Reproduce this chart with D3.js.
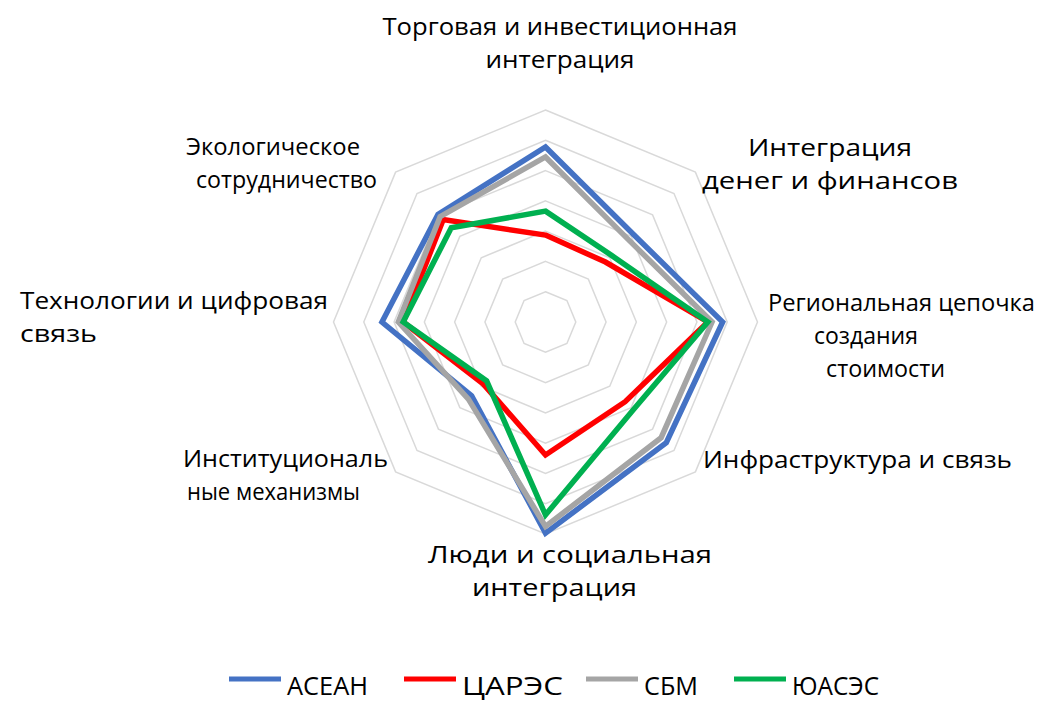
<!DOCTYPE html>
<html>
<head>
<meta charset="utf-8">
<script src="https://cdn.jsdelivr.net/npm/d3@7"></script>
<style>
  html, body { margin: 0; padding: 0; background: #fff; }
  svg { display: block; }
  text { font-family: "Open Sans", "Noto Sans", sans-serif; fill: #000; }
</style>
</head>
<body>
<div id="app"></div>
<script>
// axes, clockwise from the top
var axes = [
    'Торговая и инвестиционная интеграция',
    'Интеграция денег и финансов',
    'Региональная цепочка создания стоимости',
    'Инфраструктура и связь',
    'Люди и социальная интеграция',
    'Институциональные механизмы',
    'Технологии и цифровая связь',
    'Экологическое сотрудничество'
];

var seriesNames = ['АСЕАН', 'ЦАРЭС', 'СБМ', 'ЮАСЭС'];

var asean  = [5.78, 4.10, 5.85, 5.64, 6.97, 3.45, 5.40, 5.02];
var carec  = [2.87, 2.80, 5.36, 3.72, 4.39, 2.90, 4.70, 4.78];
var sbm    = [5.45, 3.86, 5.50, 5.40, 6.75, 3.60, 4.86, 4.92];
var sasec  = [3.66, 3.10, 5.36, 4.10, 6.37, 2.75, 4.70, 4.40];

var gridLevels = [1, 2, 3, 4, 5, 6, 7];

// label layout: wrapped lines, x, first baseline, widths (null = natural)
var labelLayout = [
    {lines: ['Торговая и инвестиционная', 'интеграция'], x: 560, y: 35, w: [355, 149], anchor: 'middle'},
    {lines: ['Интеграция', 'денег и финансов'], x: 830, y: 156, w: [164, 256], anchor: 'middle'},
    {lines: ['Региональная цепочка', 'создания', 'стоимости'], x: 0, y: 311, w: [267, null, 119], xs: [768, 814, 826], anchor: 'start'},
    {lines: ['Инфраструктура и связь'], x: 703, y: 468, w: [309], anchor: 'start'},
    {lines: ['Люди и социальная', 'интеграция'], x: 0, y: 563, w: [284, 165], xs: [428, 472], anchor: 'start'},
    {lines: ['Институциональ', 'ные механизмы'], x: 0, y: 467, w: [205, 173], xs: [183, 187], anchor: 'start'},
    {lines: ['Технологии и цифровая', 'связь'], x: 20, y: 309, w: [308, 77], anchor: 'start'},
    {lines: ['Экологическое', 'сотрудничество'], x: 0, y: 155, w: [174, 181], xs: [186, 196], anchor: 'start'}
];

var width = 1038,
    height = 702,
    cx = 545.5,
    cy = 322,
    R = 212;

var colors = d3.scaleOrdinal()
    .domain(seriesNames)
    .range(['#4472c4', '#ff0000', '#a5a5a5', '#00b050']);

var r = d3.scaleLinear().domain([0, 7]).range([0, R]);
var angle = d3.scaleLinear().domain([0, axes.length]).range([0, 2 * Math.PI]);

var svg = d3.select('#app').append('svg')
    .attr('width', width)
    .attr('height', height);

var g = svg.append('g').attr('transform', 'translate(' + [cx, cy] + ')');

// grid octagons
var ring = d3.lineRadial()
    .angle(function (d, i) { return angle(i); })
    .radius(function (d) { return r(d); })
    .curve(d3.curveLinearClosed);

g.append('g').selectAll('path')
    .data(gridLevels)
    .enter().append('path')
    .attr('d', function (lv) { return ring(axes.map(function () { return lv; })); })
    .attr('fill', 'none')
    .attr('stroke', '#d9d9d9')
    .attr('stroke-width', 1.5);

// series
var data = [asean, carec, sbm, sasec];
g.append('g').selectAll('path')
    .data(data)
    .enter().append('path')
    .attr('d', function (d) { return ring(d); })
    .attr('fill', 'none')
    .attr('stroke', function (d, i) { return colors(seriesNames[i]); })
    .attr('stroke-width', 5.5)
    .attr('stroke-linejoin', 'miter');

// axis labels
var lineH = 33;
var labels = svg.append('g').selectAll('text')
    .data(labelLayout)
    .enter().append('text')
    .attr('font-size', 23)
    .attr('text-anchor', function (d) { return d.anchor; });

labels.each(function (d) {
    var t = d3.select(this);
    d.lines.forEach(function (ln, i) {
        var ts = t.append('tspan')
            .attr('x', d.xs ? d.xs[i] : d.x)
            .attr('y', d.y + i * lineH)
            .text(ln);
        if (d.w[i]) {
            ts.attr('textLength', d.w[i]).attr('lengthAdjust', 'spacingAndGlyphs');
        }
    });
});

// legend
var legendX = [229, 404, 586, 734],
    legendTextW = [81, 101, 54, 87];

var leg = svg.append('g').selectAll('g')
    .data(seriesNames)
    .enter().append('g')
    .attr('transform', function (d, i) { return 'translate(' + [legendX[i], 679] + ')'; });

leg.append('line')
    .attr('x1', 0).attr('x2', 52)
    .attr('y1', 0).attr('y2', 0)
    .attr('stroke', function (d) { return colors(d); })
    .attr('stroke-width', 5);

leg.append('text')
    .attr('x', 58)
    .attr('y', 16)
    .attr('font-size', 25)
    .attr('textLength', function (d, i) { return legendTextW[i]; })
    .attr('lengthAdjust', 'spacingAndGlyphs')
    .text(function (d) { return d; });
</script>
</body>
</html>
